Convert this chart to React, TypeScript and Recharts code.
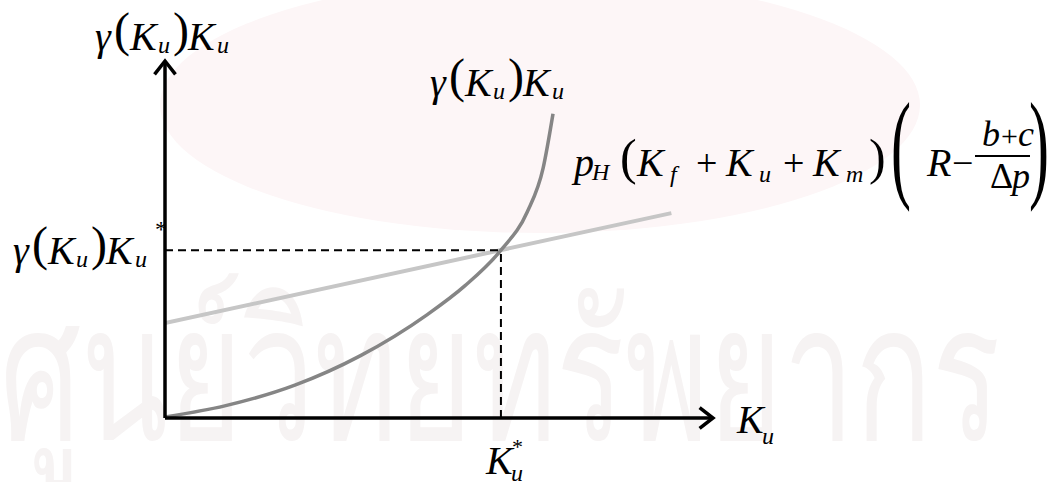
import React from 'react';
import { LineChart, Line, XAxis, YAxis, ReferenceLine } from 'recharts';

const W = 1049;
const H = 482;

// Cost curve gamma(K_u) K_u (convex, steepening towards the top)
const costK = [0, 10.9, 23.7, 35.6, 47.8, 54.7, 61.3, 66.1, 69.0, 70.8];
const costY = [0.3, 3.4, 9.2, 17.4, 28.9, 37.0, 47.0, 57.7, 70.0, 85.2];

// Return line p_H (K_f + K_u + K_m)(R - (b+c)/Δp) (linear)
const benefitK = [0, 92.4];
const benefitY = [26.6, 57.4];

// Equilibrium point
const kStar = 61.3;
const yStar = 47.0;

// Axis extent
const axisMin = 0;
const axisMax = 100;

const costData = costK.map((k, i) => ({ x: k, y: costY[i] }));
const benefitData = benefitK.map((k, i) => ({ x: k, y: benefitY[i] }));

const SERIF = 'Liberation Serif, Times New Roman, serif';

const ArrowAxis = (p: any) => {
  const { x1, y1, x2, y2 } = p;
  const a = Math.atan2(y2 - y1, x2 - x1);
  const L = 17;
  const s = (38 * Math.PI) / 180;
  const w1x = x2 - L * Math.cos(a - s);
  const w1y = y2 - L * Math.sin(a - s);
  const w2x = x2 - L * Math.cos(a + s);
  const w2y = y2 - L * Math.sin(a + s);
  return (
    <g>
      <line x1={x1} y1={y1} x2={x2} y2={y2} stroke="#000" strokeWidth={3.5} />
      <polyline
        points={`${w1x},${w1y} ${x2},${y2} ${w2x},${w2y}`}
        fill="none"
        stroke="#000"
        strokeWidth={3.5}
        strokeLinejoin="miter"
      />
    </g>
  );
};

type Piece = { t: string; dx: number; dy?: number; size?: number; italic?: boolean };

const MathLabel = ({ x, y, pieces }: { x: number; y: number; pieces: Piece[] }) => (
  <g>
    {pieces.map((p, i) => (
      <text
        key={i}
        x={x + p.dx}
        y={y + (p.dy ?? 0)}
        fill="#000"
        fontFamily={SERIF}
        fontSize={p.size ?? 40}
        fontStyle={p.italic === false ? 'normal' : 'italic'}
      >
        {p.t}
      </text>
    ))}
  </g>
);

const gammaK = (drop: number): Piece[] => [
  { t: 'γ', dx: 0 },
  { t: '(', dx: 19, dy: -4, size: 48, italic: false },
  { t: 'K', dx: 35 },
  { t: 'u', dx: 63, dy: drop, size: 24 },
  { t: ')', dx: 78, dy: -4, size: 48, italic: false },
  { t: 'K', dx: 93 },
  { t: 'u', dx: 122, dy: drop, size: 24 },
];

const B = 176; // baseline of the return-line formula

const BigParen = ({ x, t }: { x: number; t: string }) => (
  <text
    transform={`translate(${x}, ${B + 10}) scale(0.5, 1)`}
    fill="#000"
    fontFamily={SERIF}
    fontSize={120}
  >
    {t}
  </text>
);

export default function App() {
  return (
    <div
      style={{
        position: 'fixed',
        left: 0,
        top: 0,
        width: W,
        height: H,
        background: '#fff',
        overflow: 'hidden',
      }}
    >
      {/* faint background watermark */}
      <svg width={W} height={H} style={{ position: 'absolute', left: 0, top: 0 }}>
        <ellipse cx={540} cy={105} rx={380} ry={128} fill="#fdf6f7" />
        <text
          x={0}
          y={440}
          fill="#f6f3f3"
          textLength={1000}
          lengthAdjust="spacingAndGlyphs"
          fontFamily="Noto Sans, DejaVu Sans, sans-serif"
          fontSize={190}
        >
          ศูนย์วิทยทรัพยากร
        </text>
      </svg>

      <div style={{ position: 'absolute', left: 0, top: 0 }}>
        <LineChart width={W} height={H} margin={{ top: 61, right: 336, bottom: 64, left: 165 }}>
          <XAxis type="number" dataKey="x" domain={[axisMin, axisMax]} hide allowDataOverflow />
          <YAxis type="number" dataKey="y" domain={[axisMin, axisMax]} hide allowDataOverflow />
          <Line
            data={benefitData}
            dataKey="y"
            type="linear"
            stroke="#c6c6c6"
            strokeWidth={4}
            dot={false}
            activeDot={false}
            isAnimationActive={false}
          />
          <Line
            data={costData}
            dataKey="y"
            type="monotone"
            stroke="#858585"
            strokeWidth={3.5}
            dot={false}
            activeDot={false}
            isAnimationActive={false}
          />
          <ReferenceLine
            segment={[{ x: axisMin, y: yStar }, { x: kStar, y: yStar }]}
            stroke="#000"
            strokeWidth={2}
            strokeDasharray="8 5"
            ifOverflow="visible"
          />
          <ReferenceLine
            segment={[{ x: kStar, y: axisMin }, { x: kStar, y: yStar }]}
            stroke="#000"
            strokeWidth={2}
            strokeDasharray="8 5"
            ifOverflow="visible"
          />
          <ReferenceLine
            segment={[{ x: axisMin, y: axisMin }, { x: axisMax, y: axisMin }]}
            shape={ArrowAxis}
            ifOverflow="visible"
          />
          <ReferenceLine
            segment={[{ x: axisMin, y: axisMin }, { x: axisMin, y: axisMax }]}
            shape={ArrowAxis}
            ifOverflow="visible"
          />
        </LineChart>
      </div>

      {/* formula labels */}
      <svg width={W} height={H} style={{ position: 'absolute', left: 0, top: 0 }}>
        <MathLabel x={95} y={50} pieces={gammaK(3)} />
        <MathLabel x={430} y={96} pieces={gammaK(3)} />
        <MathLabel
          x={13}
          y={264}
          pieces={[...gammaK(3), { t: '*', dx: 142, dy: -27, size: 24, italic: false }]}
        />
        <MathLabel
          x={737}
          y={433}
          pieces={[
            { t: 'K', dx: 0 },
            { t: 'u', dx: 25, dy: 11, size: 24 },
          ]}
        />
        <MathLabel
          x={486}
          y={474}
          pieces={[
            { t: 'K', dx: 0 },
            { t: '*', dx: 26, dy: -20, size: 22, italic: false },
            { t: 'u', dx: 25, dy: 7, size: 24 },
          ]}
        />
        <MathLabel
          x={574}
          y={B}
          pieces={[
            { t: 'p', dx: 0 },
            { t: 'H', dx: 18, dy: 4, size: 24 },
            { t: '(', dx: 46, dy: -2, size: 50, italic: false },
            { t: 'K', dx: 63 },
            { t: 'f', dx: 96, dy: 6, size: 24 },
            { t: '+', dx: 122, size: 38, italic: false },
            { t: 'K', dx: 152 },
            { t: 'u', dx: 185, dy: 6, size: 24 },
            { t: '+', dx: 209, size: 38, italic: false },
            { t: 'K', dx: 239 },
            { t: 'm', dx: 272, dy: 6, size: 24 },
            { t: ')', dx: 295, dy: -2, size: 50, italic: false },
            { t: 'R', dx: 353 },
            { t: '−', dx: 378, size: 38, italic: false },
          ]}
        />
        <BigParen x={891} t="(" />
        <BigParen x={1029} t=")" />
        <line x1={975} y1={B - 20} x2={1030} y2={B - 20} stroke="#000" strokeWidth={2} />
        <MathLabel
          x={982}
          y={B - 30}
          pieces={[
            { t: 'b', dx: 0, size: 36 },
            { t: '+', dx: 19, size: 30, italic: false },
            { t: 'c', dx: 36, size: 36 },
          ]}
        />
        <MathLabel
          x={990}
          y={B + 12}
          pieces={[
            { t: 'Δ', dx: 0, size: 36, italic: false },
            { t: 'p', dx: 22, size: 36 },
          ]}
        />
      </svg>
    </div>
  );
}
